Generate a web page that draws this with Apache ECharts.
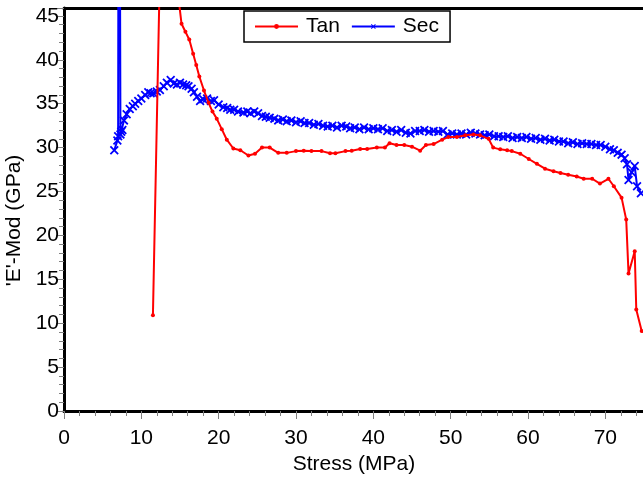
<!DOCTYPE html>
<html>
<head>
<meta charset="utf-8">
<title>E-Mod vs Stress</title>
<script src="https://cdn.jsdelivr.net/npm/echarts@6/dist/echarts.min.js"></script>
<style>
  html, body { margin: 0; padding: 0; background: #fff; }
  #chart { width: 643px; height: 479px; }
</style>
</head>
<body>
<div id="chart"></div>
<script>
// Tangent modulus (GPa) against stress (MPa); the early spike runs off the top of the plot
const tanStress = [11.5, 12.9, 14.4, 15.2, 15.7, 16.2, 16.7, 17.1, 17.5, 18.1, 18.7, 19.2, 19.75, 20.4, 21.05,
  21.9, 22.8, 23.85, 24.7, 25.6, 26.6, 27.7, 28.8, 30.0, 31.0, 32.0, 33.3, 34.4, 35.1, 36.4, 37.2, 38.3,
  39.2, 40.45, 41.5, 42.1, 43.0, 44.0, 45.0, 46.05, 46.8, 47.8, 48.9, 49.7, 50.8, 51.9, 52.95, 53.8, 54.9,
  55.5, 56.4, 57.3, 57.9, 59.0, 60.1, 61.15, 62.2, 63.3, 64.2, 65.2, 66.3, 67.2, 68.3, 69.3, 70.4, 71.1,
  72.1, 72.7, 73.0, 73.8, 74.0, 74.7];
const tanMod = [10.9, 72, 50, 44.1, 43.2, 42.3, 40.7, 39.4, 38.1, 36.5, 35.1, 34.1, 33.3, 32.1, 30.9,
  29.9, 29.7, 29.1, 29.3, 30.0, 30.0, 29.4, 29.4, 29.6, 29.65, 29.6, 29.6, 29.35, 29.35, 29.6, 29.65, 29.85,
  29.85, 30.0, 30.0, 30.5, 30.3, 30.3, 30.1, 29.65, 30.3, 30.4, 30.9, 31.2, 31.2, 31.4, 31.5, 31.4, 31.0,
  30.0, 29.8, 29.7, 29.6, 29.3, 28.7, 28.15, 27.6, 27.3, 27.1, 26.9, 26.7, 26.45, 26.45, 25.9, 26.45, 25.6,
  24.3, 21.8, 15.65, 18.2, 11.55, 9.1];

// Secant modulus (GPa) against stress (MPa)
const secStress = [6.5, 6.9, 7.0, 7.1, 7.3, 7.4, 7.55, 7.75, 8.1, 8.5, 8.9, 9.2, 9.6, 10.0, 10.5, 10.9, 11.2,
  11.55, 12.0, 12.4, 12.9, 13.3, 13.8, 14.2, 14.6, 15.0, 15.4, 15.8, 16.1, 16.5, 16.8, 17.2, 17.6, 18.0,
  18.5, 19.0, 19.4, 20.0, 20.6, 21.1, 21.5, 22.0, 22.5, 23.2, 23.7, 24.1, 24.6, 25.1, 25.6, 26.1, 26.6,
  27.2, 27.7, 28.3, 28.8, 29.4, 30.0, 30.6, 31.1, 31.7, 32.3, 32.9, 33.5, 34.1, 34.7, 35.3, 35.9, 36.5,
  37.0, 37.6, 38.2, 38.8, 39.4, 40.0, 40.6, 41.2, 41.8, 42.4, 43.0, 43.6, 44.2, 44.8, 45.4, 46.0, 46.6,
  47.2, 47.8, 48.4, 49.0, 49.6, 50.2, 50.8, 51.4, 52.0, 52.6, 53.2, 53.8, 54.4, 55.0, 55.6, 56.2, 56.8,
  57.4, 58.0, 58.6, 59.2, 59.8, 60.4, 61.0, 61.6, 62.2, 62.8, 63.4, 64.0, 64.6, 65.2, 65.8, 66.4, 67.0,
  67.6, 68.2, 68.8, 69.4, 70.0, 70.6, 71.1, 71.6, 72.1, 72.5, 72.8, 73.0, 73.4, 73.8, 74.1, 74.6];
const secMod = [29.7, 30.8, 31.3, 95, 31.5, 31.8, 32.0, 33.1, 33.8, 34.4, 34.7, 35.0, 35.3, 35.6, 36.0, 36.3, 36.2,
  36.2, 36.4, 36.55, 37.0, 37.4, 37.7, 37.3, 37.2, 37.4, 37.2, 37.1, 37.0, 36.7, 36.3, 35.8, 35.3, 35.5,
  35.6, 35.3, 35.4, 34.9, 34.6, 34.5, 34.3, 34.3, 34.1, 34.0, 34.1, 33.9, 34.1, 33.9, 33.6, 33.5, 33.4,
  33.3, 33.1, 33.2, 33.0, 33.1, 32.9, 33.0, 32.8, 32.8, 32.6, 32.7, 32.5, 32.4, 32.5, 32.3, 32.5, 32.4,
  32.2, 32.3, 32.1, 32.3, 32.1, 32.2, 32.1, 32.2, 31.9, 32.0, 31.8, 32.0, 31.7, 31.6, 31.9, 31.9, 32.0,
  31.8, 31.9, 31.8, 31.9, 31.5, 31.6, 31.5, 31.6, 31.5, 31.7, 31.6, 31.5, 31.4, 31.5, 31.3, 31.3, 31.2,
  31.3, 31.1, 31.2, 31.1, 31.2, 31.0, 31.1, 30.9, 31.0, 30.8, 30.9, 30.7, 30.7, 30.5, 30.6, 30.4, 30.5,
  30.4, 30.4, 30.3, 30.3, 30.1, 29.8, 29.7, 29.4, 29.2, 28.8, 28.1, 26.3, 27.2, 27.9, 25.6, 24.8];

const seriesNames = ['Tan', 'Sec'];
const xTitle = 'Stress (MPa)';
const yTitle = "'E'-Mod (GPa)";

const pairs = (xs, ys) => xs.map((x, i) => [x, ys[i]]);

const FONT = '"Liberation Sans", Arial, sans-serif';
const FS = 21;
// filled cross glyph for the secant markers
const CROSS = 'path://M0,1.4L1.4,0L5,3.6L8.6,0L10,1.4L6.4,5L10,8.6L8.6,10L5,6.4L1.4,10L0,8.6L3.6,5Z';

const chart = echarts.init(document.getElementById('chart'), null, { renderer: 'canvas' });

const tickStyle = { show: true, length: 8, lineStyle: { color: '#808080', width: 1 } };
const minorStyle = { show: true, splitNumber: 5, length: 5, lineStyle: { color: '#808080', width: 1 } };
const labelStyle = { color: '#000', fontSize: FS, fontFamily: FONT };

chart.setOption({
  animation: false,
  backgroundColor: '#fff',
  grid: { left: 64, top: 8, right: -1, bottom: 68, containLabel: false, outerBoundsMode: 'none' },
  legend: {
    data: seriesNames,
    left: 244,
    top: 11,
    orient: 'horizontal',
    backgroundColor: '#fff',
    borderColor: '#000',
    borderWidth: 1.5,
    borderRadius: 0,
    padding: [5, 11, 5, 10],
    itemGap: 11,
    itemWidth: 43,
    itemHeight: 6,
    textStyle: { color: '#000', fontSize: FS, fontFamily: FONT, padding: [0, 0, 0, 3] }
  },
  xAxis: [
    {
      type: 'value',
      min: 0,
      max: 75,
      interval: 10,
      name: xTitle,
      nameLocation: 'middle',
      nameGap: 42,
      nameTextStyle: { color: '#000', fontSize: FS, fontFamily: FONT },
      axisLine: { show: true, onZero: false, lineStyle: { color: '#000', width: 3 } },
      axisTick: tickStyle,
      minorTick: minorStyle,
      axisLabel: Object.assign({ margin: 17, showMaxLabel: false }, labelStyle),
      splitLine: { show: false }
    },
    {
      // plain frame line along the top of the plot
      type: 'value',
      position: 'top',
      min: 0,
      max: 75,
      axisLine: { show: true, onZero: false, lineStyle: { color: '#000', width: 3 } },
      axisTick: { show: false },
      axisLabel: { show: false },
      splitLine: { show: false }
    }
  ],
  yAxis: {
    type: 'value',
    min: 0,
    max: 45.9,
    interval: 5,
    name: yTitle,
    nameLocation: 'middle',
    nameGap: 37,
    nameTextStyle: { color: '#000', fontSize: FS, fontFamily: FONT, padding: [0, 22, 0, 0] },
    axisLine: { show: true, onZero: false, lineStyle: { color: '#000', width: 3 } },
    axisTick: tickStyle,
    minorTick: minorStyle,
    axisLabel: Object.assign({ margin: 5, showMaxLabel: false }, labelStyle),
    splitLine: { show: false }
  },
  series: [
    {
      name: 'Sec',
      type: 'line',
      data: pairs(secStress, secMod),
      clip: true,
      symbol: CROSS,
      symbolSize: 9,
      showSymbol: true,
      lineStyle: { color: '#0000ff', width: 2 },
      itemStyle: { color: '#0000ff' },
      z: 2
    },
    {
      name: 'Tan',
      type: 'line',
      data: pairs(tanStress, tanMod),
      clip: true,
      symbol: 'circle',
      symbolSize: 4,
      showSymbol: true,
      lineStyle: { color: '#ff0000', width: 2 },
      itemStyle: { color: '#ff0000' },
      z: 3
    }
  ]
});
</script>
</body>
</html>
